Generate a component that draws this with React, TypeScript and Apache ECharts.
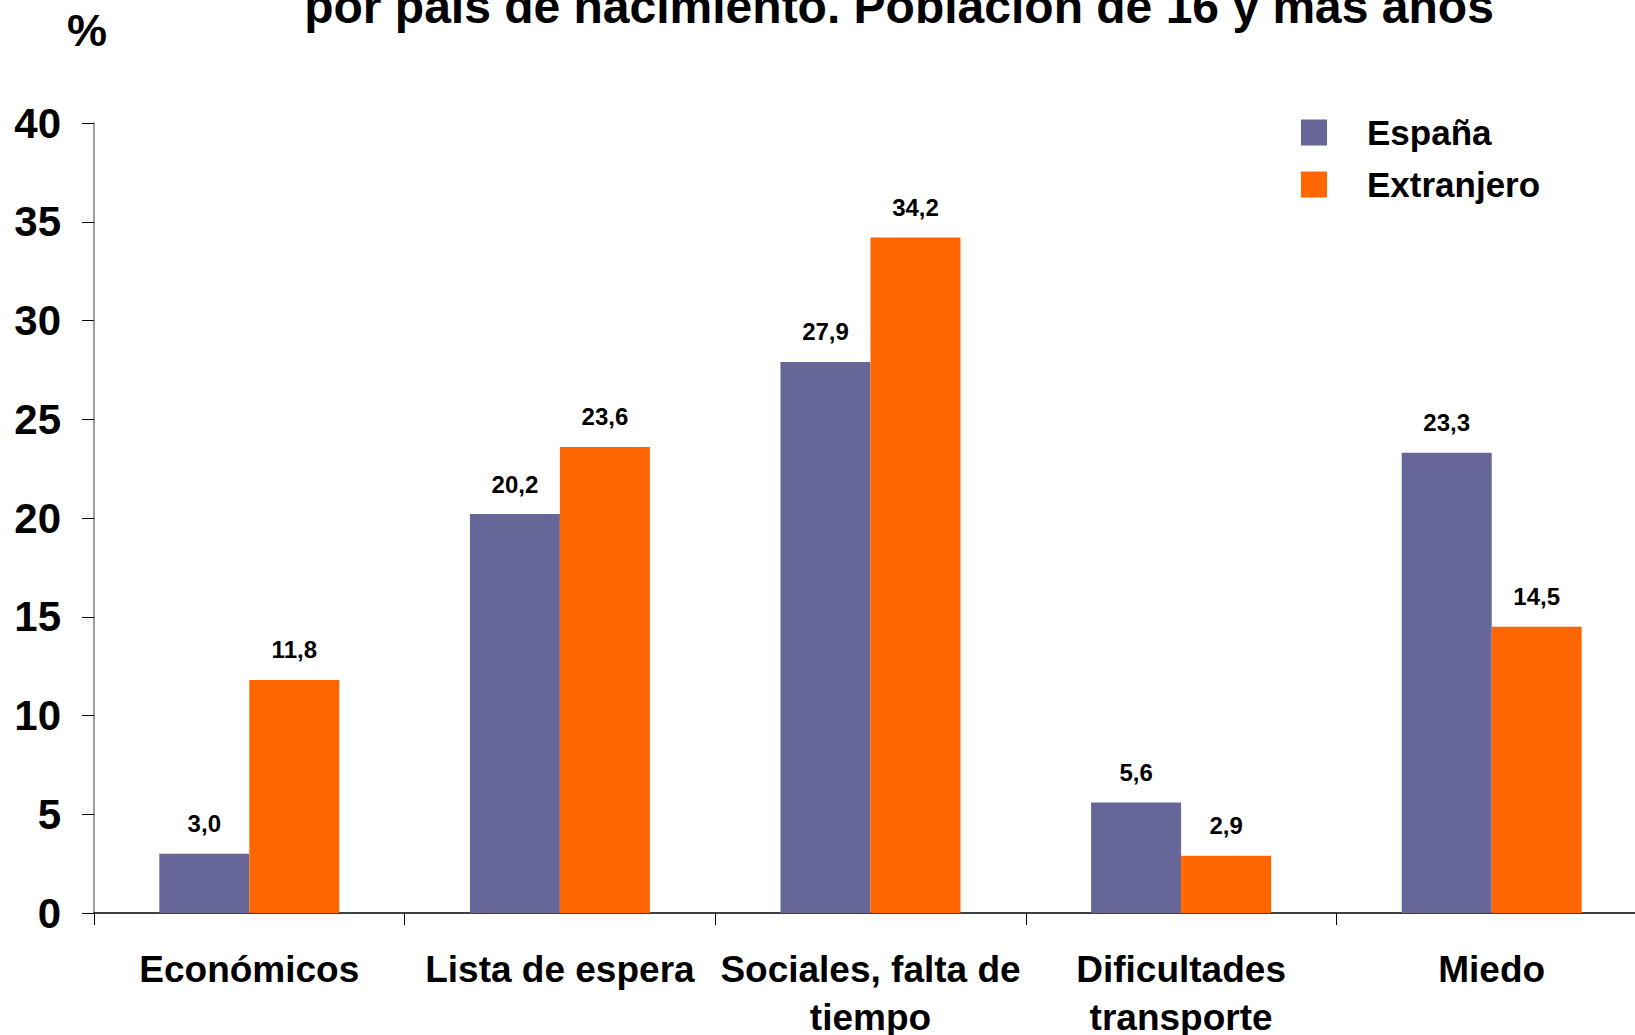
import React, { useEffect, useRef } from "react";
import * as echarts from "echarts";

const categories = [
  "Económicos",
  "Lista de espera",
  "Sociales, falta de\ntiempo",
  "Dificultades\ntransporte",
  "Miedo",
];
const espana = [3.0, 20.2, 27.9, 5.6, 23.3];
const extranjero = [11.8, 23.6, 34.2, 2.9, 14.5];
const seriesNames = ["España", "Extranjero"];
const titleText = "por país de nacimiento. Población de 16 y más años";
const unitText = "%";

const FONT = 'Arial, "Liberation Sans", sans-serif';

export default function App() {
  const ref = useRef<HTMLDivElement>(null);
  useEffect(() => {
    if (!ref.current) return;
    const chart = echarts.init(ref.current, undefined, { renderer: "svg" });
    const labelCfg = {
      show: true,
      position: "top",
      distance: 18,
      fontFamily: FONT,
      fontSize: 24,
      fontWeight: "bold",
      color: "#000",
      formatter: (p: any) => Number(p.value).toFixed(1).replace(".", ","),
    };
    chart.setOption({
      animation: false,
      backgroundColor: "#fff",
      textStyle: { fontFamily: FONT },
      grid: {
        left: 94,
        top: 123,
        height: 790,
        width: 1553,
        containLabel: false,
        outerBoundsMode: "none",
      },
      legend: {
        orient: "vertical",
        left: 1296,
        top: 110,
        itemWidth: 26,
        itemHeight: 26,
        itemGap: 17,
        icon: "rect",
        data: seriesNames,
        textStyle: {
          fontFamily: FONT,
          fontSize: 35,
          fontWeight: "bold",
          color: "#000",
          padding: [0, 0, 0, 35],
        },
      },
      xAxis: {
        type: "category",
        data: categories,
        axisLine: { show: true, lineStyle: { color: "#000", width: 1.5 } },
        axisTick: { show: true, length: 12, alignWithLabel: false, lineStyle: { color: "#000" } },
        axisLabel: {
          interval: 0,
          margin: 32,
          fontFamily: FONT,
          fontSize: 37,
          fontWeight: "bold",
          color: "#000",
          lineHeight: 48,
        },
      },
      yAxis: {
        type: "value",
        min: 0,
        max: 40,
        interval: 5,
        splitLine: { show: false },
        axisLine: { show: true, lineStyle: { color: "#808080", width: 1.5 } },
        axisTick: { show: true, length: 12, lineStyle: { color: "#000" } },
        axisLabel: {
          margin: 33,
          fontFamily: FONT,
          fontSize: 42,
          fontWeight: "bold",
          color: "#000",
        },
      },
      series: [
        {
          name: seriesNames[0],
          type: "bar",
          data: espana,
          barWidth: 90,
          barGap: "0%",
          itemStyle: { color: "#666699" },
          label: labelCfg,
        },
        {
          name: seriesNames[1],
          type: "bar",
          data: extranjero,
          barWidth: 90,
          barGap: "0%",
          itemStyle: { color: "#FF6600" },
          label: labelCfg,
        },
      ],
      graphic: [
        {
          type: "text",
          style: {
            text: titleText,
            x: 899,
            y: 6,
            textAlign: "center",
            textVerticalAlign: "middle",
            fontFamily: FONT,
            fontSize: 48,
            fontWeight: "bold",
            fill: "#000",
          },
        },
        {
          type: "text",
          style: {
            text: unitText,
            x: 87,
            y: 30,
            textAlign: "center",
            textVerticalAlign: "middle",
            fontFamily: FONT,
            fontSize: 45,
            fontWeight: "bold",
            fill: "#000",
          },
        },
      ],
    });
    return () => chart.dispose();
  }, []);
  return (
    <div
      ref={ref}
      style={{ position: "fixed", left: 0, top: 0, width: 1635, height: 1035 }}
    />
  );
}
